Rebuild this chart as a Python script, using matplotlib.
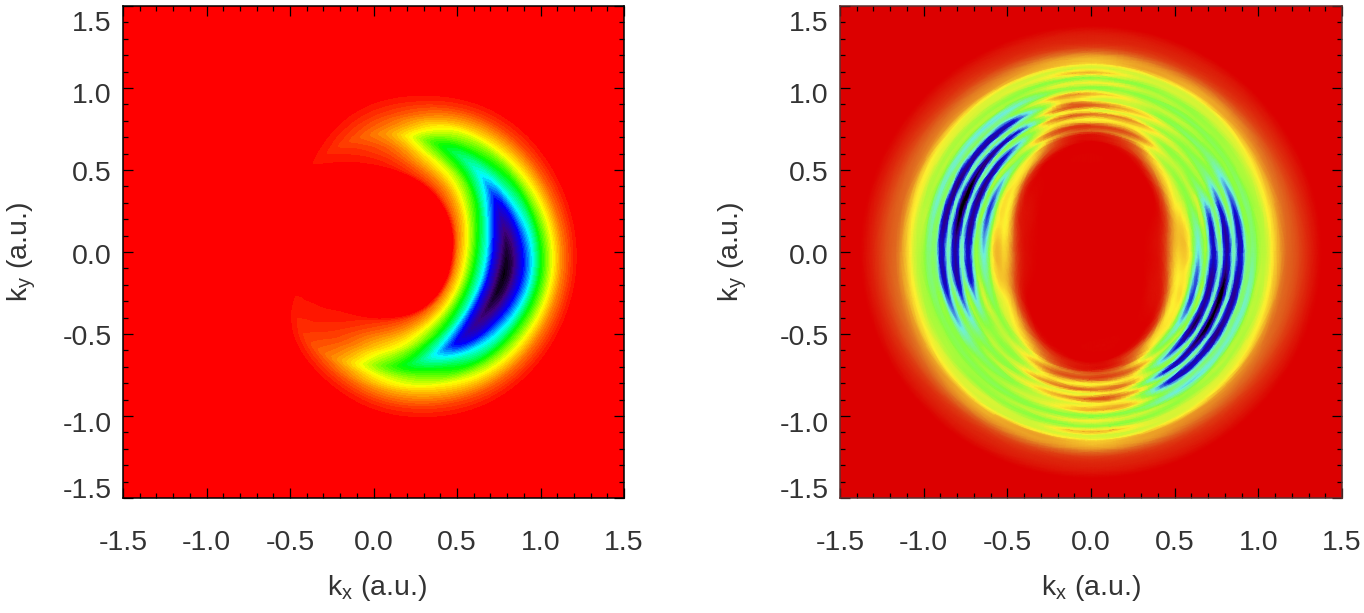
import numpy as np
import matplotlib
matplotlib.use('Agg')
import matplotlib.pyplot as plt
import matplotlib.tri as mtri
from matplotlib.colors import LinearSegmentedColormap
from matplotlib.transforms import ScaledTranslation
from matplotlib.ticker import MultipleLocator

plt.rcParams['font.family'] = ['Liberation Sans', 'DejaVu Sans']
plt.rcParams['mathtext.default'] = 'regular'

# Tick labels
xtick_values = [-1.5, -1.0, -0.5, 0.0, 0.5, 1.0, 1.5]
ytick_values = [-1.5, -1.0, -0.5, 0.0, 0.5, 1.0, 1.5]
tick_labels = ['-1.5', '-1.0', '-0.5', '0.0', '0.5', '1.0', '1.5']

# Left panel
crescent_angle = [-180, -160, -150, -135, -120, -105, -90, -75, -60, -45, -30, -15, 0, 15, 30, 45, 60, 75, 90, 105, 115, 125, 135, 180]
crescent_peak = [0, 0, .010, .035, .08, .16, .32, .42, .56, .78, .90, 1.0, .97, .83, .63, .50, .42, .20, .11, .06, .028, .006, 0, 0]
crescent_r_in = [.42, .42, .40, .396, .39, .387, .40, .41, .44, .46, .466, .47, .47, .49, .50, .51, .51, .51, .52, .55, .57, .58, .58, .42]
crescent_r_top = [.50, .50, .52, .64, .68, .69, .68, .72, .72, .75, .755, .79, .80, .79, .80, .79, .76, .73, .72, .68, .66, .64, .64, .50]
crescent_r_out = [.55, .55, .62, .72, .80, .88, .984, 1.06, 1.14, 1.19, 1.214, 1.225, 1.23, 1.21, 1.19, 1.16, 1.09, 1.01, .95, .85, .76, .70, .70, .55]
# Shape across the crescent: 0 inner edge, 1 crest, 2 outer edge
shape_pos = [0, .09, .27, .45, .64, .76, .94, 1, 1.07, 1.21, 1.35, 1.47, 1.63, 1.77, 1.91, 2]
shape_val = [0, .13, .27, .44, .61, .76, .95, 1, .95, .76, .61, .44, .27, .13, .04, 0]

# Right panel: ring radii along the kx axis and along the ky axis
ring_r_side = [.30, .40, .46, .53, .60, .65, .69, .735, .775, .81, .85, .885,
               .925, .96, .995, 1.03, 1.065, 1.10, 1.135, 1.17, 1.24, 1.31, 1.38]
ring_r_top = [.52, .62, .67, .70, .725, .745, .775, .81, .84, .866, .895, .925,
              .965, 1.0, 1.03, 1.06, 1.09, 1.12, 1.15, 1.18, 1.24, 1.31, 1.38]
# One row per angle over half a turn, the other half is the same turned by 180 deg
right_angles = list(range(0, 180, 15))
right_values = [
    [0, .02, .12, .22, .30, .55, .38, .78, .50, .84, .50, .78, .50, .44, .38, .33, .28, .22, .17, .13, .09, .04, 0],
    [0, .02, .11, .21, .30, .46, .35, .72, .42, .78, .44, .74, .46, .42, .38, .34, .28, .23, .18, .14, .09, .04, 0],
    [0, .01, .10, .24, .32, .38, .32, .46, .36, .54, .40, .56, .42, .40, .36, .34, .29, .25, .19, .15, .09, .04, 0],
    [0, 0, .10, .22, .30, .36, .32, .38, .32, .40, .34, .42, .36, .40, .36, .36, .30, .28, .20, .17, .09, .04, 0],
    [0, 0, .06, .16, .22, .28, .24, .34, .26, .36, .28, .38, .32, .40, .34, .37, .30, .30, .21, .18, .09, .04, 0],
    [0, 0, .02, .06, .10, .16, .12, .24, .16, .28, .20, .30, .27, .38, .30, .38, .29, .30, .20, .18, .09, .04, 0],
    [0, 0, 0, .02, .05, .12, .10, .26, .14, .27, .12, .26, .20, .38, .26, .37, .21, .29, .23, .20, .09, .04, 0],
    [0, 0, .02, .06, .10, .16, .12, .24, .16, .28, .18, .30, .22, .40, .30, .38, .27, .30, .21, .18, .09, .04, 0],
    [0, 0, .06, .20, .26, .34, .30, .50, .38, .70, .42, .72, .44, .54, .38, .37, .30, .29, .20, .16, .09, .04, 0],
    [0, .01, .08, .24, .32, .48, .38, .80, .44, .88, .46, .82, .46, .54, .38, .35, .30, .27, .19, .15, .09, .04, 0],
    [0, .02, .10, .25, .34, .66, .40, .90, .50, 1.0, .52, .88, .50, .52, .38, .34, .29, .25, .18, .14, .09, .04, 0],
    [0, .02, .12, .25, .34, .66, .40, .88, .52, 1.0, .52, .86, .50, .50, .38, .33, .28, .23, .17, .13, .09, .04, 0],
]

cmap_left = LinearSegmentedColormap.from_list('left', [
    (0, '#ff0000'), (.25, '#ffff00'), (.42, '#00ff00'), (.58, '#00ffff'),
    (.72, '#0000ff'), (.88, '#40007f'), (1, '#000000')], N=512)
cmap_right = LinearSegmentedColormap.from_list('right', [
    (0, '#dc0000'), (.13, '#e06a20'), (.25, '#fff030'), (.38, '#8cff40'),
    (.55, '#70f0e0'), (.72, '#1010d8'), (.88, '#30008a'), (1, '#000000')], N=512)


# Smooth a table in (angle index, radius index) space, it wraps around in angle
def refine_table(table, subdiv):
    table = np.array(table, dtype=float)
    n_ang, n_rad = table.shape
    pad = 3
    wrapped = np.vstack((table[-pad:], table, table[:pad + 1]))
    ia, ir = np.meshgrid(np.arange(-pad, n_ang + pad + 1), np.arange(n_rad), indexing='ij')
    grid = mtri.Triangulation(ia.ravel().astype(float), ir.ravel().astype(float))
    refiner = mtri.UniformTriRefiner(grid)
    fine, z = refiner.refine_field(wrapped.ravel(), subdiv=subdiv)
    return fine, np.clip(z, 0, 1)


# Read one of the crescent lists at any angle, with the corners rounded off
def around(theta_deg, values):
    fine_ang = np.arange(-180, 180, 1.0)
    fine_val = np.interp(fine_ang, crescent_angle, values)
    kernel = np.ones(21) / 21
    smooth = np.convolve(np.r_[fine_val[-10:], fine_val, fine_val[:10]], kernel, mode='valid')
    return np.interp(theta_deg, fine_ang, smooth, period=360)


def style_axes(ax):
    ax.set_xlim(-1.5, 1.5)
    ax.set_ylim(-1.5, 1.5)
    ax.set_xticks(xtick_values)
    ax.set_yticks(ytick_values)
    ax.set_xticklabels(tick_labels)
    ax.set_yticklabels(tick_labels)
    ax.xaxis.set_minor_locator(MultipleLocator(0.1))
    ax.yaxis.set_minor_locator(MultipleLocator(0.1))
    ax.tick_params(which='major', direction='in', length=7, width=0.9, top=True, right=True,
                   labelsize=20.5, labelcolor='#333333', pad=8)
    ax.tick_params(axis='x', which='major', pad=23)
    ax.tick_params(which='minor', direction='in', length=3.6, width=0.9, top=True, right=True)
    # the y labels sit off their ticks in the original
    for lab, dy in zip(ax.get_yticklabels(), [10, -6, -1, -2, -1, -5, -15]):
        lab.set_transform(lab.get_transform() + ScaledTranslation(0, dy / 100, fig.dpi_scale_trans))
    for s in ax.spines.values():
        s.set_linewidth(1.1)
        s.set_zorder(5)


fig = plt.figure(figsize=(13.64, 6.13), dpi=100)
ax1 = fig.add_axes([123 / 1364, 115 / 613, 501 / 1364, 492 / 613])
ax2 = fig.add_axes([840 / 1364, 115 / 613, 502 / 1364, 492 / 613])

# Left panel
X, Y = np.meshgrid(np.linspace(-1.5, 1.5, 901), np.linspace(-1.5, 1.5, 901))
R = np.hypot(X, Y)
TH = np.rad2deg(np.arctan2(Y, X))
r_in = around(TH, crescent_r_in)
r_top = around(TH, crescent_r_top)
r_out = around(TH, crescent_r_out)
pos = np.where(R < r_top, (R - r_in) / (r_top - r_in), 1 + (R - r_top) / (r_out - r_top))
Z = around(TH, crescent_peak) * np.interp(pos, shape_pos, shape_val)
ax1.set_facecolor(cmap_left(0.0))
ax1.contourf(X, Y, Z, levels=np.linspace(0.012, 1.0, 52), cmap=cmap_left, vmin=0, vmax=1)

# Right panel
fine, z = refine_table(right_values + right_values, 4)
theta = np.deg2rad(fine.x * (right_angles[1] - right_angles[0]))
idx = np.arange(len(ring_r_side))
r_side = np.interp(fine.y, idx, ring_r_side)
r_up = np.interp(fine.y, idx, ring_r_top)
r = r_side + (r_up - r_side) * np.sin(theta) ** 2
tri2 = mtri.Triangulation(r * np.cos(theta), r * np.sin(theta), fine.triangles)
ax2.set_facecolor(cmap_right(0.0))
ax2.tripcolor(tri2, z, shading='gouraud', cmap=cmap_right, vmin=0, vmax=1, rasterized=True)

style_axes(ax1)
style_axes(ax2)
for s in ax2.spines.values():
    s.set_color('#5a3030')

fig.text(377 / 1364, 1 - 588 / 613, 'k$_x$ (a.u.)', ha='center', va='center', fontsize=20.5, color='#333333')
fig.text(1091 / 1364, 1 - 588 / 613, 'k$_x$ (a.u.)', ha='center', va='center', fontsize=20.5, color='#333333')
fig.text(22 / 1364, 1 - 252 / 613, 'k$_y$ (a.u.)', ha='center', va='center', rotation=90, fontsize=20.5, color='#333333')
fig.text(733 / 1364, 1 - 252 / 613, 'k$_y$ (a.u.)', ha='center', va='center', rotation=90, fontsize=20.5, color='#333333')

fig.savefig('out.png', dpi=100)
